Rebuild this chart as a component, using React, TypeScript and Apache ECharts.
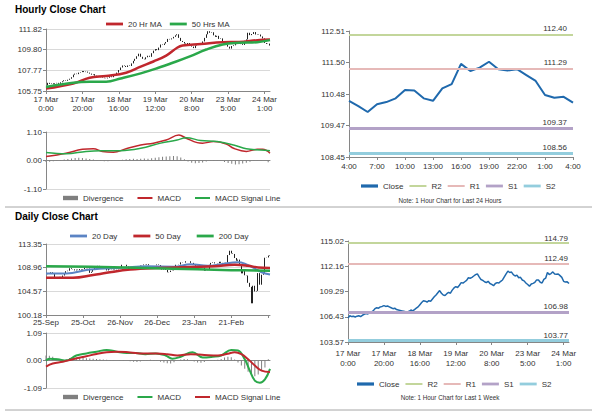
import React, { useEffect, useRef } from 'react';
import * as echarts from 'echarts';

// ---------- DATA ----------
// hourly closes, 17 Mar 0:00 -> 24 Mar 4:00 (trading hours)
const hourlyClose = [
  106.30, 106.55, 106.45, 106.50, 106.40, 106.50, 106.55, 106.45, 106.60, 106.70,
  106.80, 106.75, 106.85, 106.95, 107.10, 107.35, 107.45, 107.40, 107.55, 107.60,
  107.70, 107.60, 107.65, 107.55, 107.45, 107.35, 107.40, 107.25, 107.20, 107.15,
  107.10, 107.05, 107.00, 106.98, 107.05, 107.20, 107.10, 107.25, 107.40, 107.55,
  107.80, 108.05, 108.25, 108.20, 108.10, 108.25, 108.20, 108.45, 108.70, 108.90,
  109.15, 109.40, 109.10, 108.90, 108.85, 109.05, 109.20, 109.10, 109.45, 109.70,
  109.85, 109.75, 110.00, 110.30, 110.25, 110.40, 110.55, 110.85, 110.80, 110.90,
  111.05, 111.20, 111.30, 110.95, 110.65, 110.55, 110.40, 110.30, 110.45, 110.20,
  110.10, 109.95, 110.20, 110.30, 110.25, 110.45, 110.60, 110.95, 111.30, 111.60,
  111.45, 111.50, 111.20, 111.05, 111.15, 110.85, 110.90, 110.60, 110.50, 110.26,
  110.09, 109.90, 110.15, 110.22, 110.34, 110.61, 110.59, 110.34, 110.26, 110.66,
  110.80, 111.45, 111.22, 111.33, 111.52, 111.28, 111.24, 111.28, 111.09, 110.90,
  110.45, 110.36, 110.39, 110.20,
];
// [hour index, value] read points
const hourlyMA20 = [[0, 105.99], [15, 106.49], [24, 107.05], [33, 107.22], [44, 107.54], [52, 108.14], [59, 108.64], [66, 109.21], [72, 109.98], [75, 110.2], [85, 110.34], [97, 110.53], [106, 110.55], [116, 110.73], [123, 110.8]];
const hourlyMA50 = [[0, 106.15], [15, 106.55], [24, 106.65], [33, 106.66], [41, 106.98], [52, 107.48], [61, 107.98], [70, 108.54], [79, 109.14], [88, 109.81], [97, 110.3], [106, 110.47], [116, 110.53], [123, 110.73]];
const hourlyMacd = [[0, 0.15], [11, 0.28], [20, 0.43], [26, 0.45], [31, 0.35], [37, 0.32], [44, 0.45], [52, 0.6], [59, 0.67], [66, 0.79], [73, 0.98], [77, 0.86], [83, 0.69], [86, 0.67], [92, 0.73], [99, 0.64], [103, 0.47], [110, 0.35], [116, 0.43], [119, 0.43], [123, 0.28]];
const hourlySignal = [[0, 0.31], [11, 0.26], [22, 0.35], [30, 0.38], [41, 0.38], [52, 0.47], [63, 0.67], [72, 0.79], [77, 0.88], [85, 0.77], [94, 0.73], [103, 0.6], [110, 0.45], [118, 0.41], [123, 0.38]];
// divergence, every 2nd hour
const hourlyDivergence = [
  -0.06, -0.05, -0.03, -0.02, 0.02, 0.04, 0.06, 0.08, 0.10, 0.11,
  0.10, 0.08, 0.06, 0.04, 0.01, -0.02, -0.03, -0.03, -0.02, 0.00,
  0.02, 0.03, 0.05, 0.06, 0.07, 0.06, 0.07, 0.08, 0.07, 0.09,
  0.11, 0.13, 0.14, 0.15, 0.16, 0.17, 0.16, 0.12, 0.05, -0.04,
  -0.09, -0.11, -0.10, -0.08, -0.04, -0.01, 0.02, 0.01, -0.02, -0.06,
  -0.10, -0.13, -0.15, -0.14, -0.12, -0.09, -0.05, -0.02, 0.01, 0.02,
  0.00, -0.07,
];
const hourlyTickLabels = ['17 Mar\n0:00', '17 Mar\n20:00', '18 Mar\n16:00', '19 Mar\n12:00', '20 Mar\n8:00', '23 Mar\n5:00', '24 Mar\n1:00'];
const last24TickLabels = ['4:00', '7:00', '10:00', '13:00', '16:00', '19:00', '22:00', '1:00', '4:00'];
const hourlyPriceTicks = [105.75, 107.77, 109.80, 111.82];
const hourlyMacdTicks = [-1.10, 0, 1.10];
const last24Ticks = [108.45, 109.47, 110.48, 111.50, 112.51];
const weekTicks = [103.57, 106.43, 109.29, 112.16, 115.02];
const levels24 = { R2: 112.40, R1: 111.29, S1: 109.37, S2: 108.56 };
const levelsWeek = { R2: 114.79, R1: 112.49, S1: 106.98, S2: 103.77 };

// daily closes, 25-Sep -> 24-Mar
const dailyClose = [
  107.75, 107.85, 107.9, 108.1,
  107.95, 107.2, 106.95, 106.9,
  107.25, 107.1, 107.5, 107.95, 108.3,
  108.4, 108.85, 108.7, 108.65, 108.45,
  108.6, 108.5, 108.7, 108.6, 108.7,
  108.95, 108.85, 108.8, 108.0, 108.2,
  108.6, 109.15, 108.95, 109.3, 109.25,
  109.05, 109.0, 108.8, 108.45, 108.8,
  108.65, 108.6, 108.5, 108.6, 108.65,
  108.95, 109.05, 109.5, 109.5, 109.5,
  109.2, 108.6, 108.85, 108.75, 108.6,
  108.6, 108.75, 108.55, 109.35, 109.4,
  109.55, 109.5, 109.6, 109.4, 109.4,
  109.4, 109.4, 109.4, 109.55, 109.45,
  108.85, 108.6, 108.7, 108.55, 108.1,
  108.15,
  108.4, 108.45, 109.1, 109.5, 109.5,
  109.55,
  109.95, 109.9, 109.9, 110.15, 110.15,
  110.15, 109.85, 109.85, 109.5,
  109.3,
  108.9, 109.2, 109.0, 108.95, 108.4,
  108.5,
  108.65, 109.5, 109.85, 109.95, 109.75,
  109.75, 109.8, 110.05, 109.85, 109.8,
  109.85, 109.9, 111.3, 112.1, 111.6,
  111.5,
  110.75, 110.25, 110.45, 109.55, 107.9,
  108.35, 107.55, 107.5, 106.15, 105.4,
  102.35, 105.6, 104.55, 104.65, 107.95,
  105.8, 107.65, 108.0, 110.8, 110.85,
  111.2, 111.3,
];
const dailyMA20 = [[0, 107.9], [12, 107.9], [26, 108.6], [46, 108.95], [60, 109.2], [76, 109.15], [86, 109.6], [96, 109.3], [104, 109.6], [114, 109.95], [118, 109.7], [124, 108.8], [128, 108.1], [133, 107.7]];
const dailyMA50 = [[0, 107.1], [16, 107.1], [28, 107.6], [36, 108.0], [50, 108.6], [66, 108.9], [86, 109.1], [100, 109.2], [112, 109.5], [120, 109.3], [126, 109.0], [133, 108.9]];
const dailyMA200 = [[0, 109.2], [40, 109.05], [60, 108.9], [90, 108.65], [110, 108.5], [133, 108.4]];
const dailyMacd = [[0, 0.0], [2, 0.07], [7, 0.05], [12, 0.0], [18, 0.2], [24, 0.28], [30, 0.35], [36, 0.42], [42, 0.35], [48, 0.3], [53, 0.3], [59, 0.25], [65, 0.28], [71, 0.2], [75, 0.07], [80, 0.15], [87, 0.33], [93, 0.12], [99, 0.15], [104, 0.2], [110, 0.42], [114, 0.4], [118, 0.05], [121, -0.4], [124, -0.8], [127, -0.88], [130, -0.75], [133, -0.33]];
const dailySignal = [[0, -0.24], [4, -0.12], [10, -0.05], [16, 0.05], [24, 0.17], [30, 0.26], [36, 0.33], [42, 0.35], [50, 0.32], [58, 0.28], [66, 0.28], [72, 0.25], [78, 0.2], [86, 0.25], [94, 0.22], [102, 0.2], [108, 0.27], [112, 0.33], [116, 0.25], [120, 0.05], [124, -0.2], [128, -0.4], [133, -0.46]];
// divergence, every 2nd day
const dailyDivergence = [
  0.20, 0.19, 0.15, 0.08, 0.04, 0.03, 0.06, 0.10, 0.12, 0.12,
  0.11, 0.10, 0.09, 0.08, 0.07, 0.06, 0.05, 0.04, 0.03, 0.02,
  0.01, 0.00, 0.01, 0.02, 0.00, -0.03, -0.05, -0.06, -0.04, -0.01,
  0.02, 0.03, 0.02, -0.02, -0.05, -0.08, -0.11, -0.12, -0.07, 0.00,
  0.04, 0.06, 0.05, 0.01, -0.04, -0.08, -0.09, -0.06, -0.02, 0.01,
  0.02, 0.03, 0.06, 0.12, 0.15, 0.13, 0.04, -0.08, -0.20, -0.33,
  -0.45, -0.55, -0.62, -0.55, -0.42, -0.28, 0.05,
];
const dailyTickLabels = ['25-Sep', '25-Oct', '26-Nov', '26-Dec', '23-Jan', '21-Feb'];
const dailyPriceTicks = [100.18, 104.57, 108.96, 113.35];
const dailyMacdTicks = [-1.09, 0, 1.09];

// ---------- STYLE ----------
const RED = '#c0272d';
const GREEN = '#2aa84a';
const BLUE20 = '#5b84c4';
const CLOSE = '#1f69ad';
const LEVEL_COLORS: Record<string, string> = { R2: '#c3d69b', R1: '#e6b9b8', S1: '#b3a2c7', S2: '#93cddd' };
const LEVEL_WIDTH: Record<string, number> = { R2: 2, R1: 2, S1: 3, S2: 3 };
const AXIS = '#868686';
const TXT = '#333';
const FONT = 'Liberation Sans, Arial, sans-serif';

// legend icons (the leading moves fix the icon box)
const LINE17 = 'path://M0,0M17,8M0,2.6H17V5.4H0Z';
const THIN17 = 'path://M0,0M17,8M0,3H17V5H0Z';
const CLOSE17 = 'path://M0,0M17,8M0,2.4H17V5.6H0Z';
const LINE15 = 'path://M0,0M15,8M0,3H15V5H0Z';
const DIV15 = 'path://M0,0M15,8M0,1.8H15V6.2H0Z';

const toCandles = (c: number[]) =>
  c.map((v, i) => {
    const o = i > 0 ? c[i - 1] : v;
    return [o, v, Math.min(o, v), Math.max(o, v)];
  });

function catAxis(grid: number, n: number, step: number, labels: string[] | null, margin = 4, lineHeight = 9) {
  return {
    type: 'category',
    gridIndex: grid,
    boundaryGap: false,
    data: Array.from({ length: n }, (_, i) => String(i)),
    axisLine: { show: true, lineStyle: { color: AXIS } },
    axisTick: { show: !!labels, length: 3, interval: (i: number) => i % step === 0, lineStyle: { color: AXIS } },
    axisLabel: labels
      ? {
          show: true,
          interval: (i: number) => i % step === 0,
          formatter: (_: string, i: number) => labels[i / step] ?? '',
          fontSize: 8,
          color: TXT,
          margin,
          lineHeight,
          fontFamily: FONT,
        }
      : { show: false },
    splitLine: { show: false },
  };
}

function valAxis(grid: number, ticks: number[], split: boolean) {
  return {
    type: 'value',
    gridIndex: grid,
    min: ticks[0],
    max: ticks[ticks.length - 1],
    axisLine: { show: true, lineStyle: { color: AXIS } },
    axisTick: { show: true, length: 3, customValues: ticks, lineStyle: { color: AXIS } },
    axisLabel: { customValues: ticks, formatter: (v: number) => v.toFixed(2), fontSize: 8, color: TXT, margin: 4, fontFamily: FONT },
    splitLine: { show: split, lineStyle: { color: '#d9d9d9', width: 1 } },
  };
}

function lineSeries(name: string, axis: number, data: any, color: string, width: number, smooth: number | boolean = 0.4, z = 3) {
  return {
    type: 'line', name, xAxisIndex: axis, yAxisIndex: axis, data, symbol: 'none', smooth,
    lineStyle: { color, width }, itemStyle: { color }, z,
  };
}

function levelSeries(name: string, axis: number, value: number, dist: number[]) {
  const color = LEVEL_COLORS[name];
  return {
    type: 'line', name, xAxisIndex: axis, yAxisIndex: axis, data: [], symbol: 'none',
    lineStyle: { color, width: LEVEL_WIDTH[name] }, itemStyle: { color }, z: 2,
    markLine: {
      silent: true,
      symbol: ['none', 'none'],
      lineStyle: { color, width: LEVEL_WIDTH[name], type: 'solid' },
      label: { show: true, position: 'insideEndTop', formatter: value.toFixed(2), color: TXT, fontSize: 8, distance: dist, fontFamily: FONT },
      data: [{ yAxis: value }],
    },
  };
}

function candleSeries(axis: number, closes: number[]) {
  return {
    type: 'candlestick', xAxisIndex: axis, yAxisIndex: axis, data: toCandles(closes), barWidth: 1.2,
    itemStyle: { color: '#222', color0: '#222', borderColor: '#222', borderColor0: '#222', borderWidth: 1 }, z: 2,
  };
}

function divSeries(axis: number, vals: number[]) {
  return {
    type: 'bar', name: 'Divergence', xAxisIndex: axis, yAxisIndex: axis,
    data: vals.map((v, k) => [k * 2, v]), barWidth: 1, itemStyle: { color: '#7f7f7f' }, z: 1,
  };
}

const legendBase = { padding: 0, itemGap: 10, itemHeight: 8, textStyle: { fontSize: 8, color: TXT, fontFamily: FONT } };

function text(x: number, y: number, t: string, size: number, bold = false, align = 'left') {
  return {
    type: 'text', x, y, silent: true,
    style: { text: t, fontSize: size, fontWeight: bold ? 'bold' : 'normal', fontFamily: FONT, fill: bold ? '#000' : TXT, align, verticalAlign: 'middle', textAlign: align, textVerticalAlign: 'middle' },
  };
}

const levelLegend = (icon: string) => [
  { name: 'Close', icon: CLOSE17 },
  { name: 'R2', icon },
  { name: 'R1', icon },
  { name: 'S1', icon: LINE17 },
  { name: 'S2', icon: LINE17 },
];

const macdLegend = (macdColor: string, sigColor: string) => [
  { name: 'Divergence', icon: DIV15, itemStyle: { color: '#7f7f7f' } },
  { name: 'MACD', icon: LINE15, itemStyle: { color: macdColor }, lineStyle: { color: macdColor } },
  { name: 'MACD Signal Line', icon: LINE15, itemStyle: { color: sigColor }, lineStyle: { color: sigColor } },
];

export default function App() {
  const ref = useRef<HTMLDivElement>(null);
  useEffect(() => {
    if (!ref.current) return;
    const chart = echarts.init(ref.current, undefined, { renderer: 'svg' });
    const nH = hourlyClose.length;
    const nD = dailyClose.length;
    const last24 = hourlyClose.slice(-25);
    const option: any = {
      animation: false,
      backgroundColor: '#fff',
      textStyle: { fontFamily: FONT },
      grid: [
        { left: 46, top: 29, width: 224, height: 62 },
        { left: 46, top: 132, width: 224, height: 57 },
        { left: 349, top: 31, width: 224, height: 126 },
        { left: 46, top: 244, width: 224, height: 71 },
        { left: 46, top: 333, width: 224, height: 55 },
        { left: 348, top: 241, width: 221, height: 101 },
      ],
      xAxis: [
        catAxis(0, nH, 20, hourlyTickLabels, 4, 9),
        catAxis(1, nH, 20, null),
        catAxis(2, last24.length, 3, last24TickLabels, 5, 9),
        catAxis(3, nD, 22, dailyTickLabels, 3, 9),
        catAxis(4, nD, 22, null),
        catAxis(5, nH, 20, hourlyTickLabels, 6, 10),
      ],
      yAxis: [
        valAxis(0, hourlyPriceTicks, true),
        valAxis(1, hourlyMacdTicks, true),
        valAxis(2, last24Ticks, false),
        valAxis(3, dailyPriceTicks, true),
        valAxis(4, dailyMacdTicks, true),
        valAxis(5, weekTicks, false),
      ],
      legend: [
        { ...legendBase, left: 106, top: 20, itemWidth: 17, itemGap: 8, icon: LINE17, data: ['20 Hr MA', '50 Hrs MA'] },
        { ...legendBase, left: 63, top: 194, itemWidth: 15, itemGap: 14, data: macdLegend(RED, GREEN) },
        { ...legendBase, left: 361, top: 182, itemWidth: 17, itemGap: 6, data: levelLegend(THIN17) },
        { ...legendBase, left: 70, top: 232, itemWidth: 17, itemGap: 16, icon: LINE17, data: ['20 Day', '50 Day', '200 Day'] },
        { ...legendBase, left: 63, top: 393, itemWidth: 15, itemGap: 14, data: macdLegend(GREEN, RED) },
        { ...legendBase, left: 357, top: 380, itemWidth: 17, itemGap: 6, data: levelLegend(THIN17) },
      ],
      graphic: [
        text(15, 9, 'Hourly Close Chart', 10, true),
        text(15, 216, 'Daily Close Chart', 10, true),
        text(450, 200, 'Note: 1 Hour Chart for Last 24 Hours', 6.3, false, 'center'),
        text(450, 397, 'Note: 1 Hour Chart for Last 1 Week', 6.3, false, 'center'),
        { type: 'line', silent: true, shape: { x1: 5, y1: 207, x2: 592, y2: 207 }, style: { stroke: '#a6a6a6', lineWidth: 1 } },
        { type: 'line', silent: true, shape: { x1: 5, y1: 410, x2: 592, y2: 410 }, style: { stroke: '#a6a6a6', lineWidth: 1 } },
      ],
      series: [
        candleSeries(0, hourlyClose),
        lineSeries('20 Hr MA', 0, hourlyMA20, RED, 2.5),
        lineSeries('50 Hrs MA', 0, hourlyMA50, GREEN, 2.5),
        divSeries(1, hourlyDivergence),
        lineSeries('MACD', 1, hourlyMacd, RED, 1.5),
        lineSeries('MACD Signal Line', 1, hourlySignal, GREEN, 1.5),
        lineSeries('Close', 2, last24, CLOSE, 2, false, 4),
        levelSeries('R2', 2, levels24.R2, [6, 2]),
        levelSeries('R1', 2, levels24.R1, [6, 2]),
        levelSeries('S1', 2, levels24.S1, [6, 2]),
        levelSeries('S2', 2, levels24.S2, [6, 2]),
        candleSeries(3, dailyClose),
        lineSeries('20 Day', 3, dailyMA20, BLUE20, 2),
        lineSeries('50 Day', 3, dailyMA50, RED, 2.5),
        lineSeries('200 Day', 3, dailyMA200, GREEN, 2.5),
        divSeries(4, dailyDivergence),
        lineSeries('MACD', 4, dailyMacd, GREEN, 2),
        lineSeries('MACD Signal Line', 4, dailySignal, RED, 2),
        lineSeries('Close', 5, hourlyClose, CLOSE, 1.5, false, 4),
        levelSeries('R2', 5, levelsWeek.R2, [1, 1]),
        levelSeries('R1', 5, levelsWeek.R1, [1, 1]),
        levelSeries('S1', 5, levelsWeek.S1, [1, 1]),
        levelSeries('S2', 5, levelsWeek.S2, [1, 1]),
      ],
    };
    chart.setOption(option);
    return () => chart.dispose();
  }, []);
  return <div ref={ref} style={{ position: 'absolute', left: 0, top: 0, width: 600, height: 413 }} />;
}
